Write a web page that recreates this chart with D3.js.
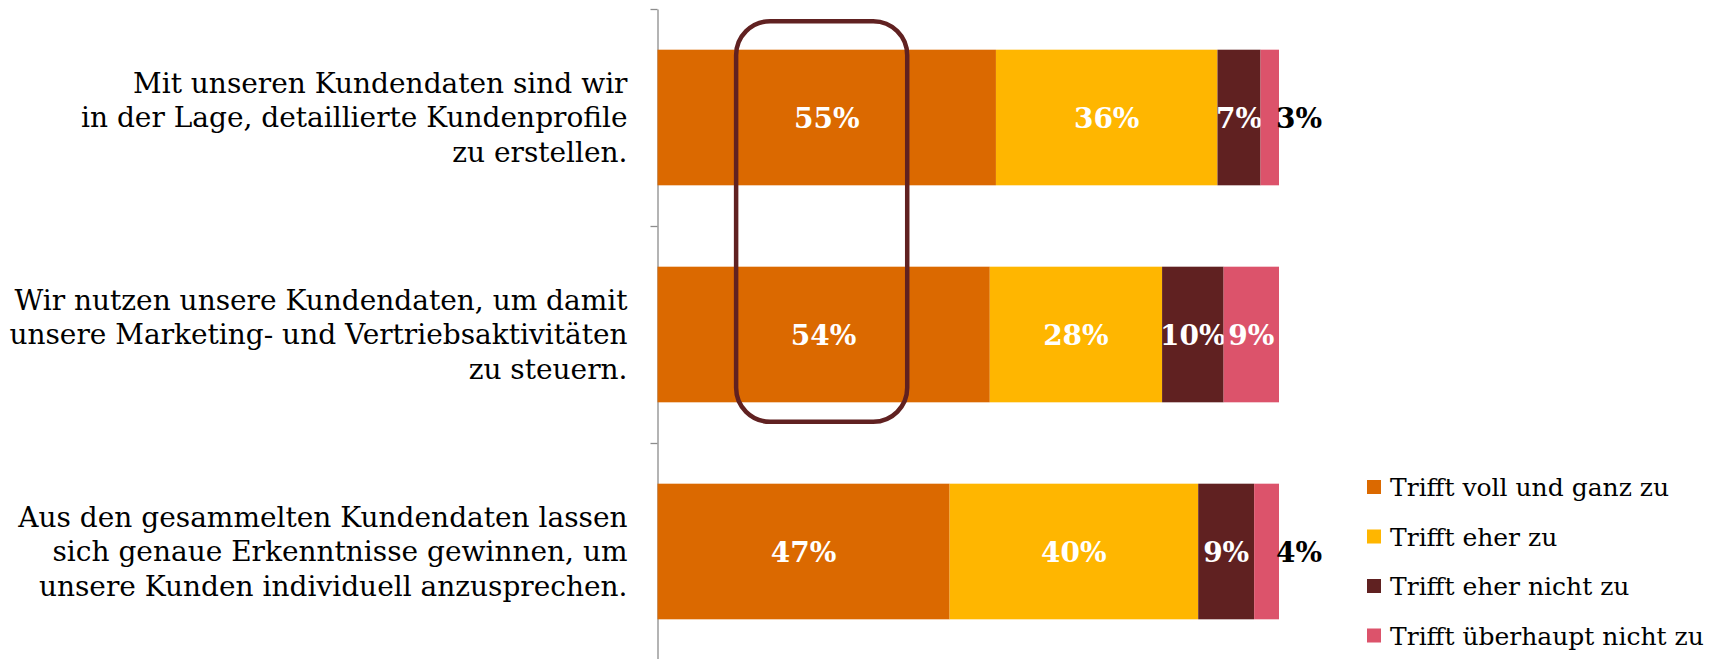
<!DOCTYPE html>
<html>
<head>
<meta charset="utf-8">
<script src="https://cdn.jsdelivr.net/npm/d3@7"></script>
<style>
  body { margin: 0; background: #fff; }
  svg { display: block; }
</style>
</head>
<body>
<svg width="1727" height="659"></svg>
<script>
const svg = d3.select('svg');

const width = +svg.attr('width');
const height = +svg.attr('height');

// statements, already split into lines as in the original
const statements = [
    ["Mit unseren Kundendaten sind wir", "in der Lage, detaillierte Kundenprofile", "zu erstellen."],
    ["Wir nutzen unsere Kundendaten, um damit", "unsere Marketing- und Vertriebsaktivitäten", "zu steuern."],
    ["Aus den gesammelten Kundendaten lassen", "sich genaue Erkenntnisse gewinnen, um", "unsere Kunden individuell anzusprechen."]
];

const answers = ["Trifft voll und ganz zu", "Trifft eher zu", "Trifft eher nicht zu", "Trifft überhaupt nicht zu"];

// percentages per statement
const vollUndGanz = [55, 54, 47];
const eherZu = [36, 28, 40];
const eherNicht = [7, 10, 9];
const ueberhauptNicht = [3, 9, 4];

const colors = ['#db6900', '#ffb600', '#602121', '#dc536b'];

var margin = {top: 9, left: 657.5, right: 448};

const rows = statements.map((s, i) => ({
    key: i,
    [answers[0]]: vollUndGanz[i],
    [answers[1]]: eherZu[i],
    [answers[2]]: eherNicht[i],
    [answers[3]]: ueberhauptNicht[i]
}));

// rows add up to 101 in places, so every bar is expanded to the full width
const stacked = d3.stack()
    .keys(answers)
    .offset(d3.stackOffsetExpand)(rows);

var xScale = d3.scaleLinear()
    .domain([0, 1])
    .range([margin.left, width - margin.right]);

var yScale = d3.scaleBand()
    .domain(d3.range(statements.length))
    .range([margin.top, margin.top + 217 * statements.length])
    .paddingInner(0.375)
    .paddingOuter(0.1875);

var color = d3.scaleOrdinal()
    .domain(answers)
    .range(colors);

//-----------------------------------------Y - AXIS-----------------------------------------//

var yTicks = d3.scaleLinear()
    .domain([0, statements.length])
    .range([margin.top, margin.top + 217 * statements.length]);

const yAxis = svg.append('g')
    .attr('transform', `translate(${margin.left},0)`)
    .call(d3.axisLeft(yTicks).ticks(statements.length).tickFormat('').tickSize(7).tickSizeOuter(0));
yAxis.selectAll('path, line').attr('stroke', '#8c8c8c').attr('stroke-width', 1.3);

svg.append('g')
    .selectAll('text')
    .data(statements)
    .enter()
    .append('text')
    .attr('text-anchor', 'end')
    .attr('x', margin.left - 30)
    .attr('y', (d, i) => yScale(i) + yScale.bandwidth() / 2)
    .style('font-family', '"DejaVu Serif", serif')
    .style('font-size', '28px')
    .attr('fill', '#000')
    .each(function (d) {
        const t = d3.select(this);
        d.forEach((line, j) => {
            t.append('tspan')
                .attr('x', margin.left - 30)
                .attr('dy', j === 0 ? `${0.35 - (d.length - 1) * 0.62}em` : '1.24em')
                .text(line);
        });
    });

//-----------------------------------------BARS-----------------------------------------//

const layers = svg.append('g')
    .selectAll('g')
    .data(stacked)
    .enter()
    .append('g')
    .attr('fill', d => color(d.key));

layers.selectAll('rect')
    .data(d => d)
    .enter()
    .append('rect')
    .attr('x', d => xScale(d[0]))
    .attr('y', d => yScale(d.data.key))
    .attr('width', d => xScale(d[1]) - xScale(d[0]))
    .attr('height', yScale.bandwidth());

// value labels: white inside the segment, black next to the bar if it does not fit
layers.each(function (layer) {
    d3.select(this).selectAll('text')
        .data(layer)
        .enter()
        .append('text')
        .attr('text-anchor', 'middle')
        .attr('x', d => (xScale(d[0]) + xScale(d[1])) / 2)
        .attr('y', d => yScale(d.data.key) + yScale.bandwidth() / 2)
        .attr('dy', '0.36em')
        .style('font-family', '"DejaVu Serif", serif')
        .style('font-weight', 'bold')
        .style('font-size', '28px')
        .attr('fill', '#fff')
        .text(d => d.data[layer.key] + '%')
        .each(function (d) {
            const seg = xScale(d[1]) - xScale(d[0]);
            const w = this.getComputedTextLength();
            if (w > seg + 8) {
                d3.select(this)
                    .attr('text-anchor', 'start')
                    .attr('x', xScale(d[1]) - 3)
                    .attr('fill', '#000');
            }
        });
});

//-----------------------------------------HIGHLIGHT-----------------------------------------//

svg.append('rect')
    .attr('x', xScale(0.1265))
    .attr('y', yScale(0) - 28.5)
    .attr('width', xScale(0.4018) - xScale(0.1265))
    .attr('height', yScale(1) + yScale.bandwidth() + 19.5 - (yScale(0) - 28.5))
    .attr('rx', 34)
    .attr('ry', 34)
    .attr('fill', 'none')
    .attr('stroke', '#602121')
    .attr('stroke-width', 4.5);

//-----------------------------------------LEGEND-----------------------------------------//

const legend = svg.append('g')
    .selectAll('g')
    .data(answers)
    .enter()
    .append('g')
    .attr('transform', (d, i) => `translate(1367,${487 + i * 49.5})`);

legend.append('rect')
    .attr('x', 0)
    .attr('y', -7)
    .attr('width', 14)
    .attr('height', 14)
    .attr('fill', d => color(d));

legend.append('text')
    .attr('x', 23)
    .attr('dy', '0.36em')
    .style('font-family', '"DejaVu Serif", serif')
    .style('font-size', '25px')
    .attr('fill', '#000')
    .text(d => d);
</script>
</body>
</html>
